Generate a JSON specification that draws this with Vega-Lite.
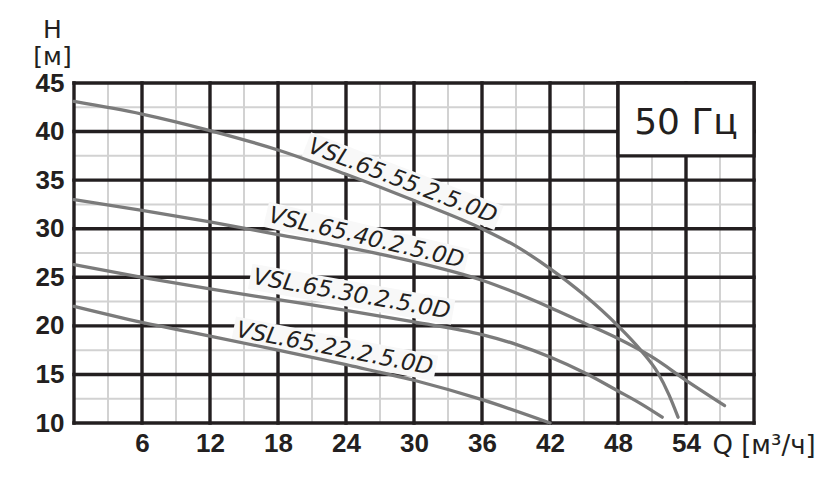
{
  "$schema": "https://vega.github.io/schema/vega-lite/v6.json",
  "width": 680,
  "height": 340,
  "autosize": "none",
  "padding": {"left": 74, "top": 83, "right": 80, "bottom": 57},
  "background": "white",
  "config": {"view": {"stroke": null}},
  "datasets": {
    "minorX": [{"q": 3}, {"q": 9}, {"q": 15}, {"q": 21}, {"q": 27}, {"q": 33}, {"q": 39}, {"q": 45}, {"q": 51}, {"q": 57}],
    "minorY": [{"h": 12.5}, {"h": 17.5}, {"h": 22.5}, {"h": 27.5}, {"h": 32.5}, {"h": 37.5}, {"h": 42.5}],
    "majorX": [{"q": 0}, {"q": 6}, {"q": 12}, {"q": 18}, {"q": 24}, {"q": 30}, {"q": 36}, {"q": 42}, {"q": 48}, {"q": 54}, {"q": 60}],
    "majorY": [{"h": 10}, {"h": 15}, {"h": 20}, {"h": 25}, {"h": 30}, {"h": 35}, {"h": 40}, {"h": 45}],
    "box": [{"q1": 48, "q2": 60, "h1": 37.5, "h2": 45, "text": "50 Гц", "tq": 54, "th": 39.7}],
    "labels": [
      {"model": "VSL.65.55.2.5.0D", "q": 29.0, "h": 34.9},
      {"model": "VSL.65.40.2.5.0D", "q": 25.8, "h": 29.05},
      {"model": "VSL.65.30.2.5.0D", "q": 24.5, "h": 23.25},
      {"model": "VSL.65.22.2.5.0D", "q": 23.0, "h": 17.65}
    ],
    "curves": [
      {"model": "55", "q": 0, "h": 43.1},
      {"model": "55", "q": 6, "h": 41.8},
      {"model": "55", "q": 12, "h": 40.1},
      {"model": "55", "q": 18, "h": 38.1},
      {"model": "55", "q": 24, "h": 35.6},
      {"model": "55", "q": 30, "h": 32.9},
      {"model": "55", "q": 36, "h": 30.0},
      {"model": "55", "q": 39, "h": 28.2},
      {"model": "55", "q": 42, "h": 25.9},
      {"model": "55", "q": 45, "h": 23.2},
      {"model": "55", "q": 48, "h": 20.0},
      {"model": "55", "q": 50, "h": 17.5},
      {"model": "55", "q": 51.5, "h": 15.2},
      {"model": "55", "q": 52.5, "h": 12.9},
      {"model": "55", "q": 53.3, "h": 10.6},
      {"model": "40", "q": 0, "h": 33.0},
      {"model": "40", "q": 6, "h": 31.9},
      {"model": "40", "q": 12, "h": 30.7},
      {"model": "40", "q": 18, "h": 29.4},
      {"model": "40", "q": 24, "h": 28.1},
      {"model": "40", "q": 30, "h": 26.6},
      {"model": "40", "q": 36, "h": 24.7},
      {"model": "40", "q": 42, "h": 21.9},
      {"model": "40", "q": 45, "h": 20.3},
      {"model": "40", "q": 48, "h": 18.7},
      {"model": "40", "q": 51, "h": 16.8},
      {"model": "40", "q": 54, "h": 14.4},
      {"model": "40", "q": 57.4, "h": 11.8},
      {"model": "30", "q": 0, "h": 26.3},
      {"model": "30", "q": 6, "h": 25.0},
      {"model": "30", "q": 12, "h": 23.8},
      {"model": "30", "q": 18, "h": 22.7},
      {"model": "30", "q": 24, "h": 21.6},
      {"model": "30", "q": 30, "h": 20.4},
      {"model": "30", "q": 36, "h": 19.1},
      {"model": "30", "q": 39, "h": 18.1},
      {"model": "30", "q": 42, "h": 16.8},
      {"model": "30", "q": 45, "h": 15.2},
      {"model": "30", "q": 48, "h": 13.3},
      {"model": "30", "q": 50, "h": 12.0},
      {"model": "30", "q": 51.9, "h": 10.6},
      {"model": "22", "q": 0, "h": 22.0},
      {"model": "22", "q": 6, "h": 20.35},
      {"model": "22", "q": 12, "h": 18.95},
      {"model": "22", "q": 18, "h": 17.5},
      {"model": "22", "q": 24, "h": 16.0},
      {"model": "22", "q": 30, "h": 14.4},
      {"model": "22", "q": 36, "h": 12.4},
      {"model": "22", "q": 42, "h": 10.0}
    ]
  },
  "layer": [
    {
      "data": {"name": "minorX"},
      "mark": {"type": "rule", "color": "#d2d2d2", "strokeWidth": 2},
      "encoding": {
        "x": {
          "field": "q", "type": "quantitative",
          "scale": {"domain": [0, 60], "nice": false, "zero": false},
          "axis": {
            "values": [6, 12, 18, 24, 30, 36, 42, 48, 54],
            "grid": false, "domain": false, "ticks": false, "tickSize": 0,
            "labelFont": "Liberation Sans", "labelFontWeight": "bold", "labelFontSize": 26,
            "labelColor": "#231f20", "labelPadding": 7, "labelFlush": false, "labelOverlap": false,
            "title": "Q [м³/ч]", "titleFont": "DejaVu Sans", "titleFontWeight": "normal", "titleFontSize": 26,
            "titleColor": "#231f20", "titleX": 638, "titleY": 30, "titleAlign": "left", "titleBaseline": "alphabetic"
          }
        }
      }
    },
    {
      "data": {"name": "minorY"},
      "mark": {"type": "rule", "color": "#d2d2d2", "strokeWidth": 2},
      "encoding": {
        "y": {
          "field": "h", "type": "quantitative",
          "scale": {"domain": [10, 45], "nice": false, "zero": false},
          "axis": {
            "values": [10, 15, 20, 25, 30, 35, 40, 45],
            "grid": false, "domain": false, "ticks": false, "tickSize": 0,
            "labelFont": "Liberation Sans", "labelFontWeight": "bold", "labelFontSize": 26,
            "labelColor": "#231f20", "labelPadding": 10, "labelFlush": false, "labelOverlap": false,
            "title": ["H", "[м]"], "titleFont": "DejaVu Sans", "titleFontWeight": "normal", "titleFontSize": 25,
            "titleColor": "#231f20", "titleAngle": 0, "titleX": -22, "titleY": -46, "titleAlign": "center",
            "titleBaseline": "alphabetic", "titleLineHeight": 27
          }
        }
      }
    },
    {
      "data": {"name": "majorX"},
      "mark": {"type": "rule", "color": "#231f20", "strokeWidth": 3.4, "strokeCap": "square"},
      "encoding": {"x": {"field": "q", "type": "quantitative", "axis": {"title": "Q [м³/ч]"}}}
    },
    {
      "data": {"name": "majorY"},
      "mark": {"type": "rule", "color": "#231f20", "strokeWidth": 3.4, "strokeCap": "square"},
      "encoding": {"y": {"field": "h", "type": "quantitative", "axis": {"title": ["H", "[м]"]}}}
    },
    {
      "data": {"name": "box"},
      "mark": {"type": "rect", "fill": "white", "stroke": "#231f20", "strokeWidth": 3.4},
      "encoding": {
        "x": {"field": "q1", "type": "quantitative", "axis": {"title": "Q [м³/ч]"}},
        "x2": {"field": "q2"},
        "y": {"field": "h1", "type": "quantitative", "axis": {"title": ["H", "[м]"]}},
        "y2": {"field": "h2"}
      }
    },
    {
      "data": {"name": "box"},
      "mark": {"type": "text", "font": "DejaVu Sans", "fontSize": 36, "color": "#231f20", "align": "center", "baseline": "alphabetic"},
      "encoding": {
        "x": {"field": "tq", "type": "quantitative", "axis": {"title": "Q [м³/ч]"}},
        "y": {"field": "th", "type": "quantitative", "axis": {"title": ["H", "[м]"]}},
        "text": {"field": "text"}
      }
    },
    {
      "data": {"name": "labels"},
      "transform": [{"filter": "datum.model === 'VSL.65.55.2.5.0D'"}],
      "mark": {"type": "point", "shape": "M-1,-0.125L1,-0.125L1,0.125L-1,0.125Z", "size": 42436, "angle": 21, "filled": true, "color": "#f8f8f8", "opacity": 1},
      "encoding": {
        "x": {"field": "q", "type": "quantitative", "axis": {"title": "Q [м³/ч]"}},
        "y": {"field": "h", "type": "quantitative", "axis": {"title": ["H", "[м]"]}}
      }
    },
    {
      "data": {"name": "labels"},
      "transform": [{"filter": "datum.model === 'VSL.65.40.2.5.0D'"}],
      "mark": {"type": "point", "shape": "M-1,-0.125L1,-0.125L1,0.125L-1,0.125Z", "size": 42436, "angle": 13.3, "filled": true, "color": "#f8f8f8", "opacity": 1},
      "encoding": {
        "x": {"field": "q", "type": "quantitative", "axis": {"title": "Q [м³/ч]"}},
        "y": {"field": "h", "type": "quantitative", "axis": {"title": ["H", "[м]"]}}
      }
    },
    {
      "data": {"name": "labels"},
      "transform": [{"filter": "datum.model === 'VSL.65.30.2.5.0D'"}],
      "mark": {"type": "point", "shape": "M-1,-0.125L1,-0.125L1,0.125L-1,0.125Z", "size": 42436, "angle": 10, "filled": true, "color": "#f8f8f8", "opacity": 1},
      "encoding": {
        "x": {"field": "q", "type": "quantitative", "axis": {"title": "Q [м³/ч]"}},
        "y": {"field": "h", "type": "quantitative", "axis": {"title": ["H", "[м]"]}}
      }
    },
    {
      "data": {"name": "labels"},
      "transform": [{"filter": "datum.model === 'VSL.65.22.2.5.0D'"}],
      "mark": {"type": "point", "shape": "M-1,-0.125L1,-0.125L1,0.125L-1,0.125Z", "size": 42436, "angle": 11, "filled": true, "color": "#f8f8f8", "opacity": 1},
      "encoding": {
        "x": {"field": "q", "type": "quantitative", "axis": {"title": "Q [м³/ч]"}},
        "y": {"field": "h", "type": "quantitative", "axis": {"title": ["H", "[м]"]}}
      }
    },
    {
      "data": {"name": "curves"},
      "mark": {"type": "line", "color": "#7b7b7b", "strokeWidth": 3.3, "interpolate": "monotone", "strokeCap": "round"},
      "encoding": {
        "x": {"field": "q", "type": "quantitative", "axis": {"title": "Q [м³/ч]"}},
        "y": {"field": "h", "type": "quantitative", "axis": {"title": ["H", "[м]"]}},
        "detail": {"field": "model"}
      }
    },
    {
      "data": {"name": "labels"},
      "transform": [{"filter": "datum.model === 'VSL.65.55.2.5.0D'"}],
      "mark": {"type": "text", "angle": 21, "font": "DejaVu Sans", "fontStyle": "italic", "fontSize": 23, "color": "#231f20", "align": "center", "baseline": "middle"},
      "encoding": {
        "x": {"field": "q", "type": "quantitative", "axis": {"title": "Q [м³/ч]"}},
        "y": {"field": "h", "type": "quantitative", "axis": {"title": ["H", "[м]"]}},
        "text": {"field": "model"}
      }
    },
    {
      "data": {"name": "labels"},
      "transform": [{"filter": "datum.model === 'VSL.65.40.2.5.0D'"}],
      "mark": {"type": "text", "angle": 13.3, "font": "DejaVu Sans", "fontStyle": "italic", "fontSize": 23, "color": "#231f20", "align": "center", "baseline": "middle"},
      "encoding": {
        "x": {"field": "q", "type": "quantitative", "axis": {"title": "Q [м³/ч]"}},
        "y": {"field": "h", "type": "quantitative", "axis": {"title": ["H", "[м]"]}},
        "text": {"field": "model"}
      }
    },
    {
      "data": {"name": "labels"},
      "transform": [{"filter": "datum.model === 'VSL.65.30.2.5.0D'"}],
      "mark": {"type": "text", "angle": 10, "font": "DejaVu Sans", "fontStyle": "italic", "fontSize": 23, "color": "#231f20", "align": "center", "baseline": "middle"},
      "encoding": {
        "x": {"field": "q", "type": "quantitative", "axis": {"title": "Q [м³/ч]"}},
        "y": {"field": "h", "type": "quantitative", "axis": {"title": ["H", "[м]"]}},
        "text": {"field": "model"}
      }
    },
    {
      "data": {"name": "labels"},
      "transform": [{"filter": "datum.model === 'VSL.65.22.2.5.0D'"}],
      "mark": {"type": "text", "angle": 11, "font": "DejaVu Sans", "fontStyle": "italic", "fontSize": 23, "color": "#231f20", "align": "center", "baseline": "middle"},
      "encoding": {
        "x": {"field": "q", "type": "quantitative", "axis": {"title": "Q [м³/ч]"}},
        "y": {"field": "h", "type": "quantitative", "axis": {"title": ["H", "[м]"]}},
        "text": {"field": "model"}
      }
    }
  ]
}
